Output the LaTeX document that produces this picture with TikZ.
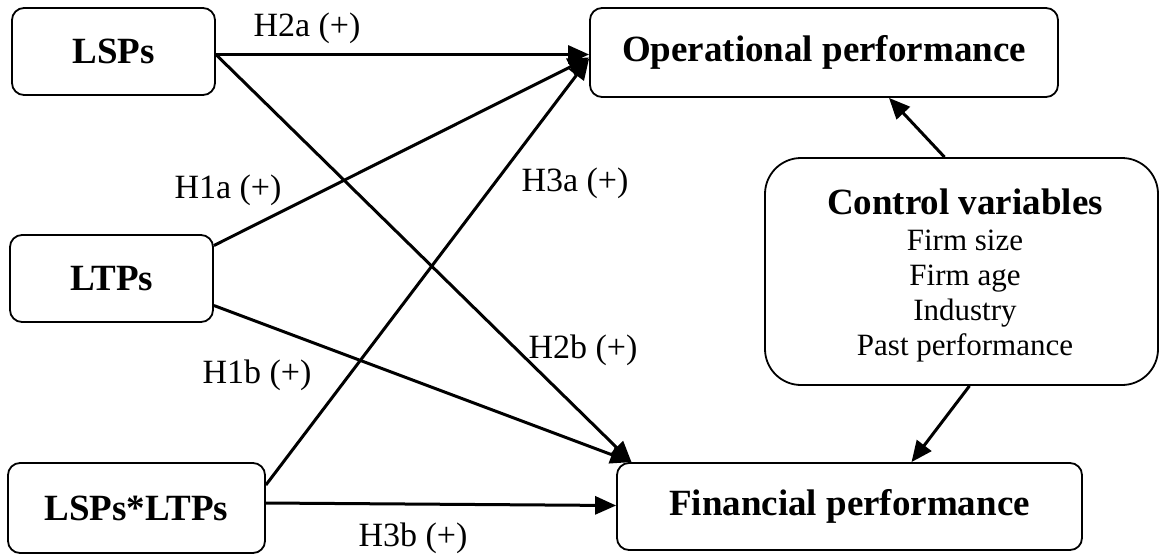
\documentclass[tikz,border=0pt]{standalone}
\usepackage{fontspec}
\setmainfont{Liberation Serif}
\usetikzlibrary{arrows.meta}
\begin{document}
\begin{tikzpicture}[x=1pt,y=-1pt,
  box/.style={draw,line width=1.8pt,rounded corners=12pt,inner sep=0pt,font=\fontsize{37}{42}\selectfont\bfseries},
  lbl/.style={inner sep=0pt,font=\fontsize{34}{38}\selectfont},
  conn/.style={line width=3pt,-{Triangle[length=21pt,width=18pt]}}]
\useasboundingbox (0,0) rectangle (1161,557);
\node[box,minimum width=203pt,minimum height=87pt] (lsps) at (113.5,51.5) {LSPs};
\node[box,minimum width=203pt,minimum height=87pt] (ltps) at (111.5,278.5) {LTPs};
\node[box,minimum width=257pt,minimum height=90pt] (inter) at (136.5,508) {LSPs*LTPs};
\node[box,minimum width=468pt,minimum height=89pt] (op) at (824,52.5) {Operational performance};
\node[box,minimum width=465pt,minimum height=87pt] (fin) at (849.5,506.5) {Financial performance};
\node[draw,line width=1.8pt,rounded corners=36pt,minimum width=393pt,minimum height=227pt,inner sep=0pt] (ctrl) at (961.5,271.5) {};
\node[align=center,inner sep=0pt,font=\fontsize{31}{35}\selectfont] (ctrltext) at (965,275)
  {{\fontsize{37}{42}\selectfont\bfseries Control variables}\\[1pt]Firm size\\Firm age\\Industry\\Past performance};
% arrows
\draw[conn] ([yshift=-3pt]lsps.east) -- ([yshift=-2pt]op.west);
\draw[conn] ([yshift=-3pt]lsps.east) -- ([xshift=-218pt]fin.north);
\draw[conn] ([yshift=33pt]ltps.east) -- ([yshift=-5pt]op.west);
\draw[conn] ([yshift=-27pt]ltps.east) -- ([xshift=-218pt]fin.north);
\draw[conn] ([yshift=23pt]inter.east) -- ([yshift=-6pt]op.west);
\draw[conn] ([yshift=5pt]inter.east) -- ([yshift=1pt]fin.west);
\draw[conn] ([xshift=-17pt]ctrl.north) -- ([xshift=65pt]op.south);
\draw[conn] ([xshift=8pt]ctrl.south) -- ([xshift=62pt]fin.north);
% labels
\node[lbl] (h2a) at (307,28) {H2a (+)};
\node[lbl] (h1a) at (228,190) {H1a (+)};
\node[lbl] (h3a) at (575,183) {H3a (+)};
\node[lbl] (h2b) at (583,350) {H2b (+)};
\node[lbl] (h1b) at (257,375) {H1b (+)};
\node[lbl] (h3b) at (413,538) {H3b (+)};
\end{tikzpicture}
\end{document}
